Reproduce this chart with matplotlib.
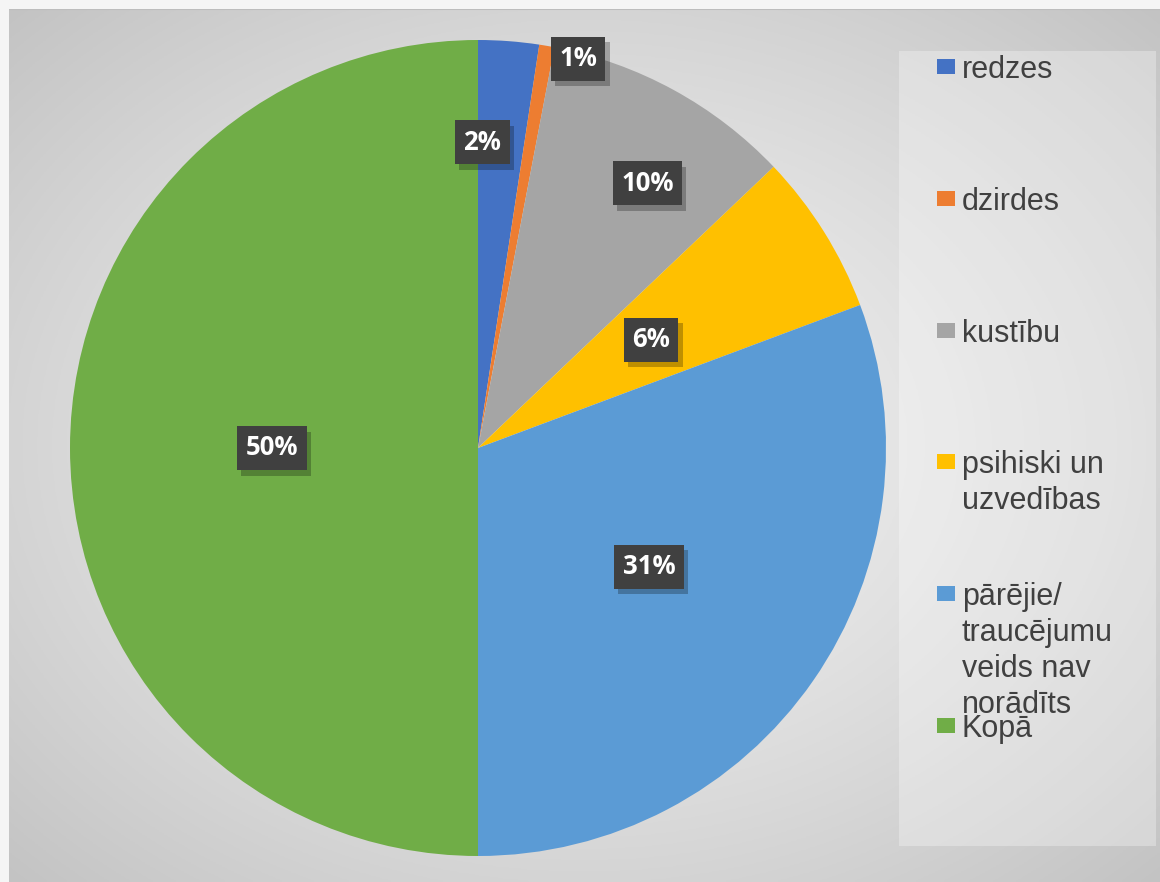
import matplotlib.pyplot as plt
import matplotlib.patheffects as pe
from matplotlib.patches import Rectangle
import numpy as np

categories = ["redzes", "dzirdes", "kustību", "psihiski un\nuzvedības",
              "pārējie/\ntraucējumu\nveids nav\nnorādīts", "Kopā"]
values = [2.4, 0.6, 9.9, 6.4, 30.7, 50.0]
colors = ["#4472C4", "#ED7D31", "#A5A5A5", "#FFC000", "#5B9BD5", "#70AD47"]

# label placement tweaks (fraction of radius, degrees off the slice middle)
label_r = [0.75, 0.985, 0.77, 0.50, 0.51, 0.505]
label_shift = [-3.5, 4.7, 4.0, 0.0, 0.0, 0.0]

W, H = 1160, 882
fig = plt.figure(figsize=(W / 100, H / 100), dpi=100)
fig.patch.set_facecolor("#f5f5f5")

# chart area background: radial grey gradient
bg = fig.add_axes([9 / W, 0, 1 - 9 / W, 1 - 9 / H])
yy, xx = np.mgrid[0:1:300j, 0:1:400j]
d = np.sqrt(((xx - 0.5) / 0.75) ** 2 + ((yy - 0.5) / 0.75) ** 2)
d = np.clip(d / d.max(), 0, 1)
shade = 0.95 - (0.95 - 0.765) * d ** 1.3
bg.imshow(np.dstack([shade] * 3), aspect="auto", extent=[0, 1, 0, 1])
bg.set_xlim(0, 1)
bg.set_ylim(0, 1)
bg.axis("off")
bg.axhline(1, color="#bdbdbd", lw=1.5)

# legend panel
fig.patches.append(Rectangle((899 / W, 1 - 846 / H), 257 / W, 795 / H,
                             transform=fig.transFigure, facecolor="white",
                             alpha=0.3, edgecolor="none", zorder=1))

cx, cy, rad = 478, 448, 408
ax = fig.add_axes([(cx - rad) / W, (H - cy - rad) / H, 2 * rad / W, 2 * rad / H])
wedges, _ = ax.pie(values, colors=colors, startangle=90, counterclock=False,
                   wedgeprops=dict(linewidth=0))
ax.set_xlim(-1, 1)
ax.set_ylim(-1, 1)
ax.set_aspect("equal")
ax.axis("off")

total = sum(values)
for i, w in enumerate(wedges):
    mid = np.deg2rad((w.theta1 + w.theta2) / 2 - label_shift[i])
    x = label_r[i] * np.cos(mid)
    y = label_r[i] * np.sin(mid)
    t = ax.text(x, y, f"{round(values[i] / total * 100)}%", ha="center", va="center",
                color="white", fontsize=18.5, fontweight="bold", family="Open Sans",
                bbox=dict(boxstyle="square,pad=0.33", facecolor="#404040",
                          edgecolor="none"))
    t.get_bbox_patch().set_path_effects([
        pe.SimplePatchShadow(offset=(3, -4), shadow_rgbFace="black", alpha=0.25),
        pe.Normal()])

# legend entries
top0, step = 56, 131.8
for i, (lab, c) in enumerate(zip(categories, colors)):
    top = top0 + i * step
    fig.patches.append(Rectangle((937 / W, 1 - (top + 18) / H), 18 / W, 15 / H,
                                 transform=fig.transFigure, facecolor=c,
                                 edgecolor="none", zorder=3))
    fig.text(962 / W, 1 - (top - 1) / H, lab, ha="left", va="top",
             fontsize=22, family="Liberation Sans", color="#404040",
             linespacing=1.26, zorder=4)

fig.savefig("out.png", dpi=100, facecolor=fig.get_facecolor())
